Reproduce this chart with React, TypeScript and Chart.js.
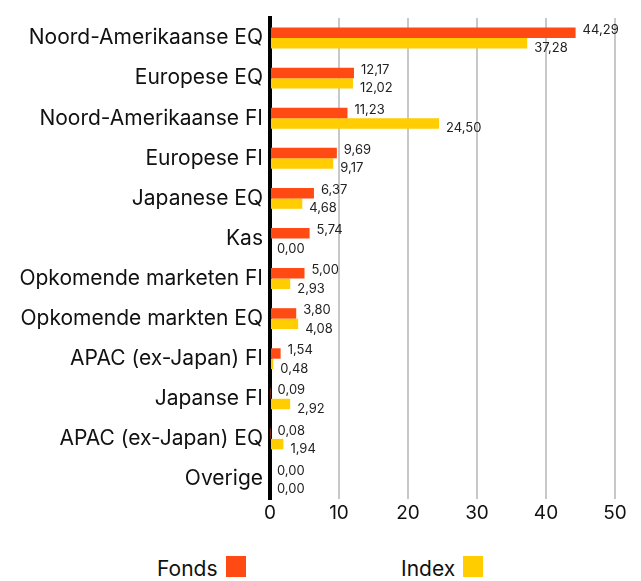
import React, { useEffect, useRef } from "react";
import { Chart, registerables } from "chart.js";

Chart.register(...registerables);

const categories = [
  "Noord-Amerikaanse EQ",
  "Europese EQ",
  "Noord-Amerikaanse FI",
  "Europese FI",
  "Japanese EQ",
  "Kas",
  "Opkomende marketen FI",
  "Opkomende markten EQ",
  "APAC (ex-Japan) FI",
  "Japanse FI",
  "APAC (ex-Japan) EQ",
  "Overige",
];
const fondsValues = [44.29, 12.17, 11.23, 9.69, 6.37, 5.74, 5.0, 3.8, 1.54, 0.09, 0.08, 0.0];
const indexValues = [37.28, 12.02, 24.5, 9.17, 4.68, 0.0, 2.93, 4.08, 0.48, 2.92, 1.94, 0.0];
const xTicks = [0, 10, 20, 30, 40, 50];

const ORANGE = "#ff4a14";
const YELLOW = "#ffcd00";
const FONT = "Inter, Roboto, sans-serif";

const valueLabels = {
  id: "valueLabels",
  afterDatasetsDraw(chart: any) {
    const ctx = chart.ctx;
    ctx.save();
    ctx.font = `13px ${FONT}`;
    ctx.fillStyle = "#222";
    ctx.textAlign = "left";
    ctx.textBaseline = "middle";
    chart.data.datasets.forEach((ds: any, di: number) => {
      const meta = chart.getDatasetMeta(di);
      meta.data.forEach((el: any, i: number) => {
        const v = ds.data[i] as number;
        const txt = v.toFixed(2).replace(".", ",");
        const dy = di === 0 ? -3 : 5;
        ctx.fillText(txt, el.x + 7, el.y + dy);
      });
    });
    ctx.restore();
  },
};

export default function App() {
  const ref = useRef<HTMLCanvasElement | null>(null);
  useEffect(() => {
    if (!ref.current) return;
    const chart = new Chart(ref.current, {
      type: "bar",
      data: {
        labels: categories,
        datasets: [
          { label: "Fonds", data: fondsValues, backgroundColor: ORANGE, categoryPercentage: 0.52, barPercentage: 1 },
          { label: "Index", data: indexValues, backgroundColor: YELLOW, categoryPercentage: 0.52, barPercentage: 1 },
        ],
      },
      options: {
        indexAxis: "y",
        animation: false,
        responsive: false,
        maintainAspectRatio: false,
        layout: { padding: { top: 10, right: 18, left: 0, bottom: 0 } },
        plugins: { legend: { display: false }, tooltip: { enabled: false } },
        scales: {
          x: {
            min: 0,
            max: 50,
            afterBuildTicks: (scale: any) => {
              scale.ticks = xTicks.map((v) => ({ value: v }));
            },
            afterFit: (scale: any) => {
              scale.height = 39;
              scale.paddingLeft = 0;
              scale.paddingRight = 0;
            },
            grid: { color: "#c8c8c8", lineWidth: 2, drawTicks: false },
            border: { display: false },
            ticks: { font: { family: FONT, size: 19 }, color: "#111", padding: 3 },
          },
          y: {
            z: 1,
            afterFit: (scale: any) => {
              scale.width = 262;
              scale.paddingTop = 0;
              scale.paddingBottom = 0;
            },
            grid: { display: false, drawTicks: false },
            border: { display: true, color: "#000", width: 4 },
            ticks: { font: { family: FONT, size: 21 }, color: "#111", padding: 7 },
          },
        },
      },
      plugins: [valueLabels],
    });
    return () => chart.destroy();
  }, []);

  const item = (label: string, color: string, left: number) => (
    <div
      style={{
        position: "absolute",
        left,
        top: 548,
        height: 21,
        display: "flex",
        alignItems: "center",
        fontFamily: FONT,
        fontSize: 21,
        lineHeight: "21px",
        color: "#111",
      }}
    >
      <span style={{ position: "relative", top: 2 }}>{label}</span>
      <span style={{ display: "inline-block", width: 20, height: 21, background: color, marginLeft: 8 }} />
    </div>
  );

  return (
    <div style={{ position: "relative", width: 625, height: 573 }}>
      <canvas ref={ref} width={625} height={530} style={{ display: "block" }} />
      {item("Fonds", ORANGE, 149)}
      {item("Index", YELLOW, 393)}
    </div>
  );
}
